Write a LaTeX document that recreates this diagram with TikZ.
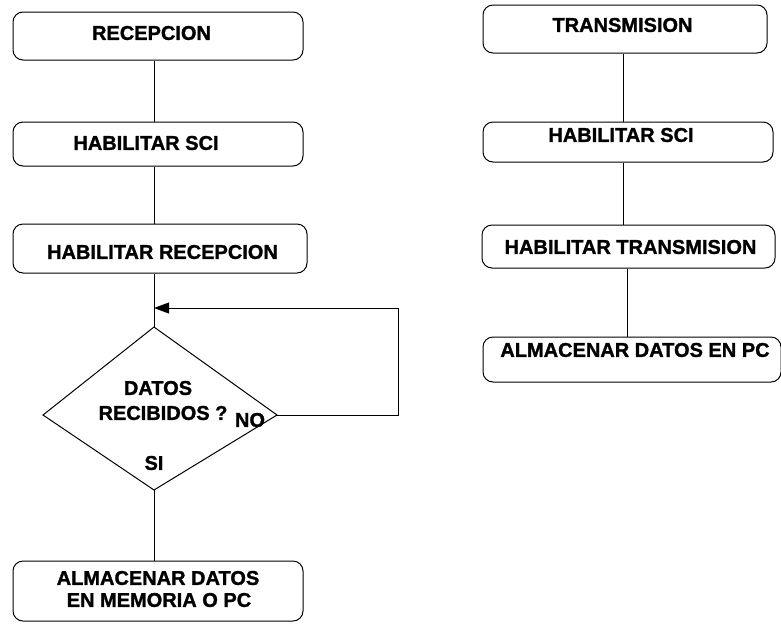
\documentclass[tikz,border=0pt]{standalone}
\usepackage{fontspec}
\setmainfont{Liberation Sans}[BoldFeatures={FakeBold=1.3}]
\usetikzlibrary{arrows.meta}
\begin{document}
\begin{tikzpicture}[x=1pt,y=-1pt,
  box/.style={draw, rounded corners=10pt, line width=1pt, inner sep=0pt},
  lbl/.style={font=\bfseries\fontsize{20}{23}\selectfont, inner sep=0pt, anchor=center},
  conn/.style={line width=1pt}]
\useasboundingbox (0,0) rectangle (781,625);
\fill[white] (0,0) rectangle (781,625);
% left column boxes
\node[box, minimum width=290pt, minimum height=48pt] (rec) at (158,36) {};
\node[box, minimum width=290pt, minimum height=44pt] (sciL) at (158,144) {};
\node[box, minimum width=294pt, minimum height=49pt] (habrec) at (160,248.5) {};
\node[box, minimum width=290pt, minimum height=60pt] (alm) at (158,591) {};
% decision
\coordinate (dt) at (154,327);
\coordinate (dr) at (277,415);
\coordinate (db) at (154,490);
\coordinate (dl) at (43,415);
\coordinate (join) at (154,308);
\coordinate (lc) at (398,415);
\coordinate (tc) at (398,308);
\draw[conn] (dt) -- (dr) -- (db) -- (dl) -- cycle;
% right column boxes
\node[box, minimum width=284pt, minimum height=48pt] (trans) at (625,29) {};
\node[box, minimum width=290pt, minimum height=40pt] (sciR) at (628,142) {};
\node[box, minimum width=293pt, minimum height=43pt] (habtr) at (628.5,246.5) {};
\node[box, minimum width=298pt, minimum height=45pt] (almR) at (632,359.5) {};
% labels
\node[lbl] (t1) at (151.5,33) {RECEPCION};
\node[lbl] (t2) at (146,143) {HABILITAR SCI};
\node[lbl] (t3) at (162.5,252) {HABILITAR RECEPCION};
\node[lbl] (t4) at (158,388) {DATOS};
\node[lbl] (t5) at (163,413) {RECIBIDOS ?};
\node[lbl] (t6) at (250,420) {NO};
\node[lbl] (t7) at (154,463) {SI};
\node[lbl] (t8) at (158,578) {ALMACENAR DATOS};
\node[lbl] (t9) at (159,600) {EN MEMORIA O PC};
\node[lbl] (t10) at (622.5,25) {TRANSMISION};
\node[lbl] (t11) at (621,135) {HABILITAR SCI};
\node[lbl] (t12) at (630.5,247) {HABILITAR TRANSMISION};
\node[lbl] (t13) at (635,350) {ALMACENAR DATOS EN PC};
% connectors left
\draw[conn] ([xshift=-4pt]rec.south) -- ([xshift=-4pt]sciL.north);
\draw[conn] ([xshift=-4pt]sciL.south) -- ([xshift=-6pt]habrec.north);
\draw[conn] ([xshift=-6pt]habrec.south) -- (dt);
\draw[conn, -{Triangle[length=15pt,width=11pt]}] (dr) -- (lc) -- (tc) -- (join);
\draw[conn] (db) -- ([xshift=-4pt]alm.north);
% connectors right
\draw[conn] ([xshift=-2pt]trans.south) -- ([xshift=-5pt]sciR.north);
\draw[conn] ([xshift=-5pt]sciR.south) -- ([xshift=-5.5pt]habtr.north);
\draw[conn] ([xshift=-1.5pt]habtr.south) -- ([xshift=-5pt]almR.north);
\end{tikzpicture}
\end{document}
